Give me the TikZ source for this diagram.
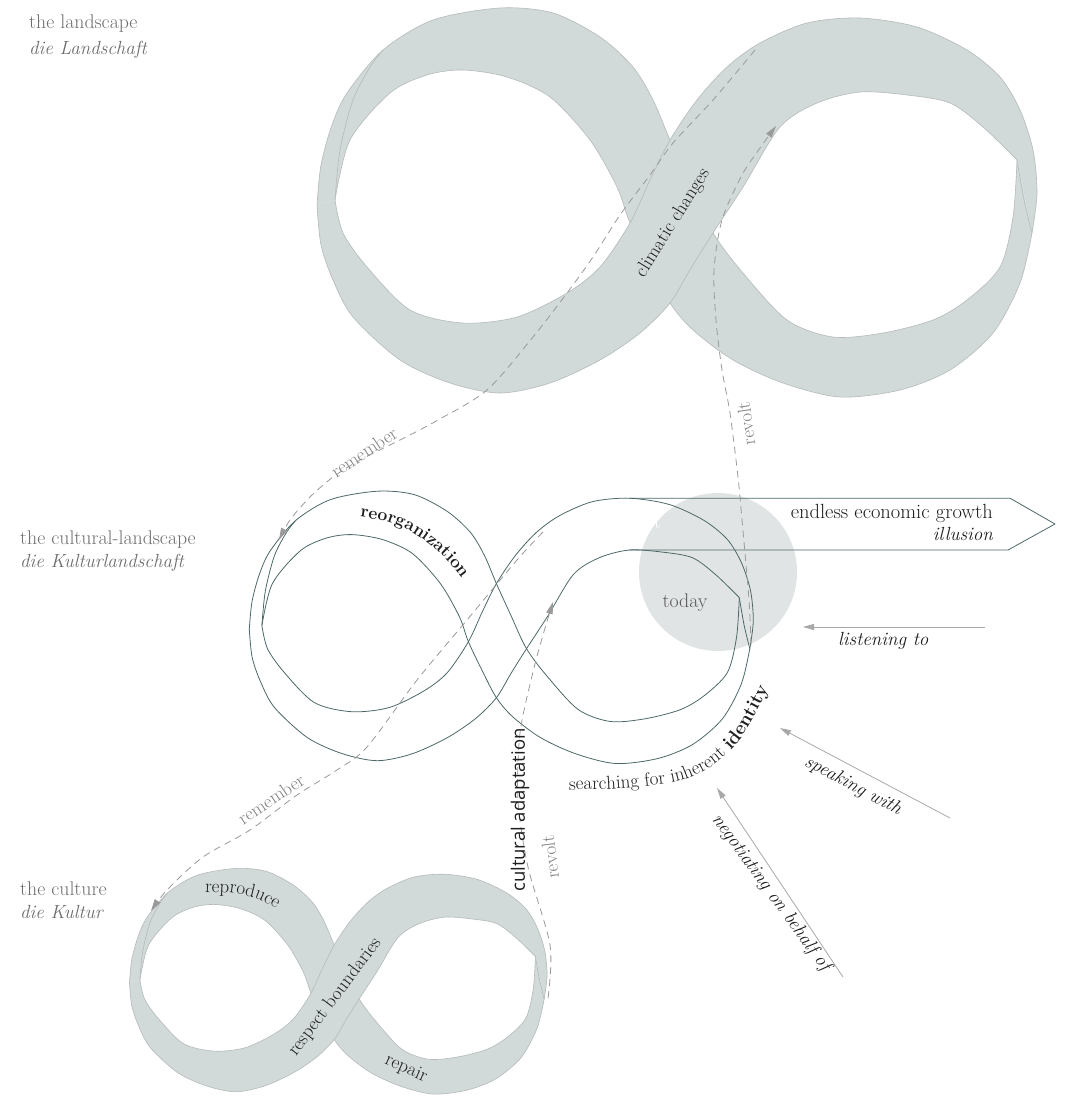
\documentclass[tikz,border=0pt]{standalone}
\usepackage{fontspec}
\setsansfont{Open Sans}
\usetikzlibrary{arrows.meta,decorations.text}
\definecolor{ribfill}{HTML}{D2D9D9}
\definecolor{ribline}{HTML}{B5BABA}
\definecolor{midline}{HTML}{4E6868}
\definecolor{circfill}{HTML}{E1E4E4}
\definecolor{dashcol}{HTML}{9A9A9A}
\definecolor{arrcol}{HTML}{A8A8A8}
\definecolor{lblcol}{HTML}{6E6E6E}
\definecolor{txtcol}{HTML}{1E1E1E}
\newcommand\fsLbl{\fontsize{19.8}{23}\selectfont}
\newcommand\fsLblI{\fontsize{19}{23}\selectfont\itshape}
\newcommand\fsTxt{\fontsize{19}{22}\selectfont}
\newcommand\fsBig{\fontsize{20.5}{23}\selectfont}
\newcommand\fsBigI{\fontsize{19}{23}\selectfont\itshape}
\newcommand\fsReorg{\fontsize{17.5}{21}\selectfont\bfseries}
\newcommand\fsSearch{\fontsize{19}{22}\selectfont}
\newcommand\fsSearchB{\fontsize{19}{22}\selectfont\bfseries}
% ribbon edges (coordinates of the top figure)
\newcommand\pA{plot[smooth] coordinates {(317,205) (321,165) (332,125) (347,93) (383,50) (433,20) (500,8) (553,13) (600,37) (633,67) (653,100) (670,140) (691,186) (713,233) (743,273) (787,320) (833,337) (883,333) (933,320) (967,300) (1000,267) (1013,217) (1017,160)}}
\newcommand\pBr{plot[smooth] coordinates {(1032,233) (1020,283) (993,333) (950,370) (900,390) (840,397) (783,383) (733,360) (693,330) (670,303) (650,265) (630,223) (617,187) (590,140) (550,97) (507,77) (463,70) (427,75) (390,93) (350,140) (335,200)}}
\newcommand\pC{plot[smooth] coordinates {(1032,233) (1037,193) (1033,150) (1020,110) (1000,77) (967,50) (917,27) (860,18) (807,23) (760,43) (727,67) (697,100) (670,140) (650,180) (630,223) (600,267) (567,293) (517,317) (463,323) (410,310) (367,267) (343,233) (335,200)}}
\newcommand\pD{plot[smooth] coordinates {(317,205) (321,245) (333,280) (353,317) (400,360) (450,383) (500,393) (550,383) (600,360) (640,333) (670,303) (691,268) (713,233) (743,187) (780,127) (817,103) (860,92) (907,95) (950,103) (983,127) (1017,160)}}
\newcommand\pFL{plot[smooth] coordinates {(335,200) (340,150) (353,100) (370,67) (383,50)}}
\newcommand\pFR{plot[smooth] coordinates {(1017,160) (1024,200) (1032,233)}}
\newcommand\BackStrand{\pA -- plot[smooth] coordinates {(1032,233) (1020,283) (993,333) (950,370) (900,390) (840,397) (783,383) (733,360) (693,330) (670,303) (650,265) (630,223) (617,187) (590,140) (550,97) (507,77) (463,70) (427,75) (390,93) (350,140) (335,200)} -- cycle}
\newcommand\FrontStrand{\pC -- plot[smooth] coordinates {(317,205) (321,245) (333,280) (353,317) (400,360) (450,383) (500,393) (550,383) (600,360) (640,333) (670,303) (691,268) (713,233) (743,187) (780,127) (817,103) (860,92) (907,95) (950,103) (983,127) (1017,160)} -- cycle}
\newcommand\DrawRibbon{%
  \fill[ribfill] \BackStrand;
  \draw[ribl] \pA; \draw[ribl] \pBr;
  \fill[ribfill] \FrontStrand;
  \draw[ribl] \pC; \draw[ribl] \pD;
  \draw[ribl] \pFR; \draw[ribl] \pFL;}
\begin{document}
\begin{tikzpicture}[x=1pt,y=-1pt,line join=round,
  ribl/.style={draw=ribline,line width=0.6pt},
  midl/.style={draw=midline,line width=0.8pt},
  dashl/.style={draw=dashcol,line width=0.8pt,dash pattern=on 7pt off 5pt,
     -{Triangle[length=12pt,width=6.5pt,fill=dashcol]}},
  arrl/.style={draw=arrcol,line width=0.8pt,-{Triangle[length=11pt,width=6pt,fill=arrcol]}},
  lbl/.style={text=lblcol,font=\fsLbl,inner sep=0pt},
  grey/.style={text=dashcol!85!black,font=\fsTxt,inner sep=0pt},
  dark/.style={text=txtcol,font=\fsTxt,inner sep=0pt}]
\useasboundingbox (0,0) rectangle (1073,1097);
\fill[white] (0,0) rectangle (1073,1097);

% --- the landscape ribbon
\DrawRibbon

% --- the culture ribbon
\begin{scope}[shift={(-54.4,863.8)},scale=0.58]
\DrawRibbon
\end{scope}

% --- today circle
\node[circle,fill=circfill,minimum size=158pt,inner sep=0pt] (todayc) at (718,572) {};
\node[text=white,font=\fsLbl,anchor=base west,inner sep=0pt] (wt) at (654,528) {t};

% --- the cultural landscape outline
\begin{scope}[shift={(27.4,485.6)},scale=0.7]
\draw[midl] \pA;
\draw[midl] \pBr;
\draw[midl] \pC;
\draw[midl] \pD;
\draw[midl] \pFL;
\draw[midl] \pFR;
\end{scope}

% growth arrow
\coordinate (arT1) at (629.4,498.2);
\coordinate (arT2) at (1010,498.2);
\coordinate (arTip) at (1055,524);
\coordinate (arB2) at (1008,550);
\coordinate (arB1) at (629.4,550);
\draw[midl] (arT1) -- (arT2) -- (arTip) -- (arB2) -- (arB1);

% --- dashed connectors
\coordinate (remTs) at (755,50);
\coordinate (remTe) at (279,540);
\draw[dashl] plot[smooth] coordinates {(remTs) (713,100) (673,143) (650,175) (620,215) (593,257) (567,293) (533,337) (487,390) (438,420) (400,440) (360,460) (333,477) (310,497) (290,520) (remTe)};
\coordinate (remMs) at (543,532);
\coordinate (remMe) at (151,911);
\draw[dashl] plot[smooth] coordinates {(remMs) (517,560) (467,620) (417,680) (367,747) (337,770) (297,795) (250,830) (203,857) (167,890) (remMe)};
\coordinate (revTs) at (751,645);
\coordinate (revTe) at (776,126);
\draw[dashl] plot[smooth] coordinates {(revTs) (749,600) (742,520) (738,477) (730,413) (722,370) (716,320) (714,270) (722,220) (742,175) (760,148) (revTe)};
\coordinate (revBs) at (548,998);
\coordinate (revBe) at (553,602);
\draw[dashl] plot[smooth] coordinates {(revBs) (550,945) (528,867) (518,800) (520,733) (533,672) (543,635) (revBe)};

% --- solid arrows
\coordinate (lisS) at (985,627);
\coordinate (lisE) at (803,627);
\draw[arrl] (lisS) -- (lisE);
\coordinate (spkS) at (950,818);
\coordinate (spkE) at (780,728);
\draw[arrl] (spkS) -- (spkE);
\coordinate (negS) at (843,977);
\coordinate (negE) at (717,788);
\draw[arrl] (negS) -- (negE);

% --- labels
\node[lbl,anchor=base west] (l1a) at (29,29) {the landscape};
\node[lbl,anchor=base west,font=\fsLblI] (l1b) at (29,55) {die Landschaft};
\node[lbl,anchor=base west] (l2a) at (20,544) {the cultural-landscape};
\node[lbl,anchor=base west,font=\fsLblI] (l2b) at (20,567) {die Kulturlandschaft};
\node[lbl,anchor=base west] (l3a) at (20,895) {the culture};
\node[lbl,anchor=base west,font=\fsLblI] (l3b) at (20,918) {die Kultur};

% --- texts
\node[dark,rotate=58] (clim) at (673,223) {climatic changes};
\node[dark,rotate=53] (resp) at (335,997) {respect boundaries};
\node[dark,rotate=-24] (repa) at (406,1069) {repair};
\path[decorate,decoration={text along path,text={|\fsTxt|reproduce},text color=txtcol}]
  plot[smooth] coordinates {(205,892) (230,893) (255,898) (278,910) (298,926) (312,945)};
\path[decorate,decoration={text along path,text={|\fsReorg|reorganization},text color=txtcol}]
  plot[smooth] coordinates {(360,517) (385,521) (408,530) (428,543) (445,558) (460,576) (472,595) (480,612)};
\path[decorate,decoration={text along path,text={|\fsSearch|searching for inherent |\fsSearchB|identity},text color=txtcol}]
  plot[smooth] coordinates {(569,790) (610,789) (647,786) (683,780) (712,766) (738,742) (760,705) (777,668) (790,625) (798,590)};

\node[grey,rotate=34] (rem1) at (364,452) {remember};
\node[grey,rotate=34] (rem2) at (271,799) {remember};
\node[grey,rotate=98] (rev1) at (746,424) {revolt};
\node[grey,rotate=97] (rev2) at (550,857) {revolt};

\node[text=lblcol!80!black,font=\fsLbl,anchor=base,inner sep=0pt] (today) at (685,607) {today};
\node[dark,font=\fsBig,anchor=base east] (growth) at (993,518) {endless economic growth};
\node[dark,font=\fsBigI,anchor=base east] (illu) at (993,540) {illusion};
\node[dark,font=\fsBigI,anchor=base west] (listen) at (838,645) {listening to};
\node[dark,font=\fsBigI,rotate=-28] (speak) at (853,786) {speaking with};
\node[dark,font=\fsBigI,rotate=-54] (nego) at (771,893) {negotiating on behalf of};
\node[text=txtcol,font=\sffamily\fontsize{18.5}{22}\selectfont,rotate=90,inner sep=0pt] (cult) at (520,810) {cultural adaptation};
\end{tikzpicture}
\end{document}
